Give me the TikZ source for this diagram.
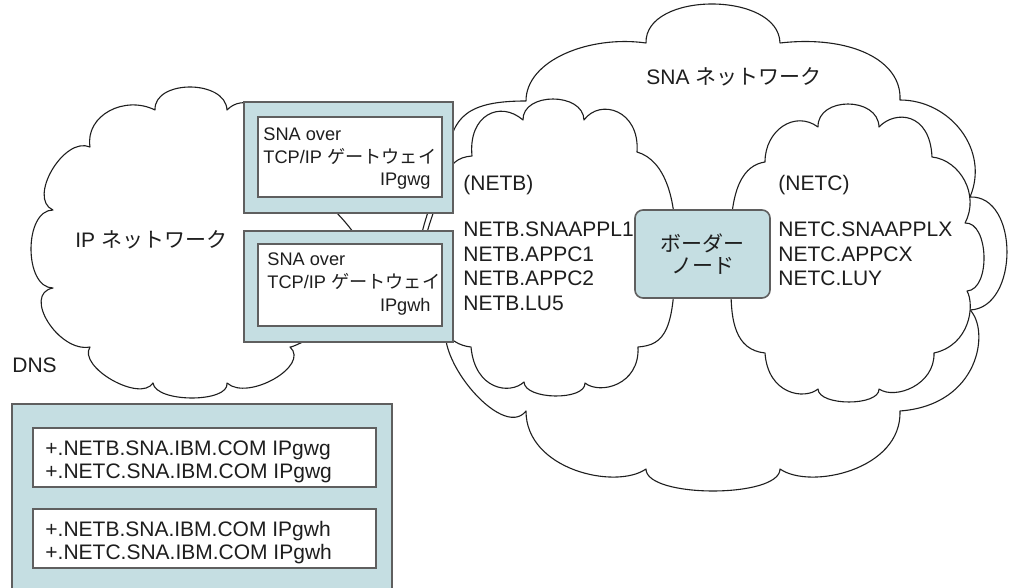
\documentclass[tikz,border=0pt]{standalone}
\usepackage{fontspec}
\setmainfont{Liberation Sans}
\newfontfamily\jp{Noto Sans CJK JP}
\usetikzlibrary{calc}
\definecolor{boxfill}{RGB}{197,222,226}
\definecolor{boxline}{RGB}{95,95,95}
\definecolor{ink}{RGB}{30,30,30}
\newcommand\lobe[3]{.. controls ($0.33333*(#1)+1.33333*(#3)-0.66667*(#2)$) and ($0.33333*(#2)+1.33333*(#3)-0.66667*(#1)$) .. (#2)}
\newcommand\msz{\fontsize{10.5}{12}\selectfont}
\newcommand\gsz{\fontsize{9.1}{11}\selectfont}
\begin{document}
\begin{tikzpicture}[x=0.5pt,y=-0.5pt,
  cloud/.style={draw=ink, line width=0.55pt, fill=white, line join=round},
  gbox/.style={draw=boxline, line width=0.8pt, fill=boxfill, inner sep=0pt, outer sep=0pt, anchor=north west},
  wbox/.style={draw=boxline, line width=0.6pt, fill=white, inner sep=0pt, outer sep=0pt, anchor=north west},
  lbl/.style={inner sep=0pt, anchor=base west, text=ink, font=\msz},
  glbl/.style={inner sep=0pt, anchor=base west, text=ink, font=\gsz},
  grbl/.style={inner sep=0pt, anchor=base east, text=ink, font=\gsz}]
\useasboundingbox (0,0) rectangle (1014,588);
\fill[white] (0,0) rectangle (1014,588);

% IP cloud
\path[cloud] (90,347)
  \lobe{90,347}{53,288}{48,322}
  \lobe{53,288}{53,210}{31,249}
  \lobe{53,210}{90,147}{52,170}
  .. controls (85,115) and (125,95) .. (155,110)
  \lobe{155,110}{227,110}{190,87}
  \lobe{227,110}{300,195}{287,128}
  \lobe{300,195}{375,300}{356,236}
  \lobe{375,300}{290,347}{335,325}
  \lobe{290,347}{227,383}{274,379}
  \lobe{227,383}{153,383}{192,398}
  \lobe{153,383}{90,347}{112,380}
  -- cycle;

% SNA cloud
\path[cloud] (526,101)
  .. controls (526,60) and (590,35) .. (646,43)
  \lobe{646,43}{780,43}{712,4}
  .. controls (850,35) and (902,60) .. (900,100)
  .. controls (950,100) and (990,150) .. (970,197)
  \lobe{970,197}{970,310}{1007,252}
  .. controls (990,330) and (980,405) .. (900,411)
  .. controls (902,470) and (810,490) .. (780,469)
  \lobe{780,469}{646,469}{713,491}
  .. controls (616,490) and (526,470) .. (526,411)
  \lobe{526,411}{450,318}{470,388}
  .. controls (395,275) and (425,220) .. (448,160)
  .. controls (450,115) and (470,101) .. (526,101)
  -- cycle;

% NETB cloud
\path[cloud] (472,156)
  .. controls (468,115) and (500,100) .. (523,120)
  \lobe{523,120}{584,120}{553,99}
  .. controls (600,98) and (640,110) .. (637,152)
  .. controls (665,160) and (678,200) .. (675,255)
  .. controls (675,330) and (665,345) .. (638,347)
  .. controls (640,385) and (600,395) .. (585,383)
  \lobe{585,383}{524,382}{555,396}
  .. controls (510,395) and (475,390) .. (471,347)
  .. controls (460,346) and (448,340) .. (440,325)
  .. controls (405,275) and (428,225) .. (447,178)
  .. controls (449,164) and (458,157) .. (472,156)
  -- cycle;

% NETC cloud
\path[cloud] (731,255)
  .. controls (728,185) and (745,165) .. (765,162)
  .. controls (765,130) and (795,110) .. (818,127)
  \lobe{818,127}{879,127}{848,104}
  .. controls (895,110) and (930,112) .. (932,157)
  .. controls (960,160) and (980,195) .. (965,223)
  \lobe{965,223}{967,291}{984,256}
  .. controls (975,305) and (970,345) .. (934,353)
  .. controls (935,385) and (895,400) .. (879,389)
  \lobe{879,389}{818,389}{849,402}
  .. controls (805,400) and (768,395) .. (765,353)
  .. controls (735,350) and (731,320) .. (731,290)
  -- cycle;

% border node
\node[gbox, rounded corners=4pt, minimum width=67.5pt, minimum height=44pt, anchor=center,
      align=center, font=\jp\fontsize{10.5}{11}\selectfont, text=ink] (border) at (702.5,254) {ボーダー\\ノード};

% gateways
\node[gbox, minimum width=104.5pt, minimum height=55.5pt] (gwg) at (244,102) {};
\node[wbox, minimum width=92pt, minimum height=40pt] (gwgin) at (258,117) {};
\node[gbox, minimum width=104.5pt, minimum height=55.5pt] (gwh) at (244,231) {};
\node[wbox, minimum width=92pt, minimum height=41pt] (gwhin) at (258,244) {};

\node[glbl] (g1a) at (263,141) {SNA over};
\node[glbl] (g1b) at (263,163.5) {TCP/IP {\jp ゲートウェイ}};
\node[grbl] (g1c) at (431,186) {IPgwg};
\node[glbl] (g2a) at (267,266) {SNA over};
\node[glbl] (g2b) at (267,289) {TCP/IP {\jp ゲートウェイ}};
\node[grbl] (g2c) at (431,312) {IPgwh};

% DNS
\node[lbl] (dnslbl) at (12,373) {DNS};
\node[gbox, minimum width=190pt, minimum height=100pt] (dns) at (12,404) {};
\node[wbox, minimum width=171.5pt, minimum height=29.5pt] (dnsa) at (33,428) {};
\node[wbox, minimum width=171.5pt, minimum height=29.5pt] (dnsb) at (33,509) {};
\node[lbl] (d1) at (45,456) {+.NETB.SNA.IBM.COM IPgwg};
\node[lbl] (d2) at (45,479) {+.NETC.SNA.IBM.COM IPgwg};
\node[lbl] (d3) at (45,537) {+.NETB.SNA.IBM.COM IPgwh};
\node[lbl] (d4) at (45,560) {+.NETC.SNA.IBM.COM IPgwh};

% cloud labels
\node[lbl] (iplbl) at (75,248) {IP {\jp ネットワーク}};
\node[lbl] (snalbl) at (646,85) {SNA {\jp ネットワーク}};
\node[lbl] (netb) at (463,191) {(NETB)};
\node[lbl] (nb1) at (463,237) {NETB.SNAAPPL1};
\node[lbl] (nb2) at (463,262) {NETB.APPC1};
\node[lbl] (nb3) at (463,286) {NETB.APPC2};
\node[lbl] (nb4) at (463,311) {NETB.LU5};
\node[lbl] (netc) at (778,191) {(NETC)};
\node[lbl] (nc1) at (778,237) {NETC.SNAAPPLX};
\node[lbl] (nc2) at (778,262) {NETC.APPCX};
\node[lbl] (nc3) at (778,286) {NETC.LUY};
\end{tikzpicture}
\end{document}
